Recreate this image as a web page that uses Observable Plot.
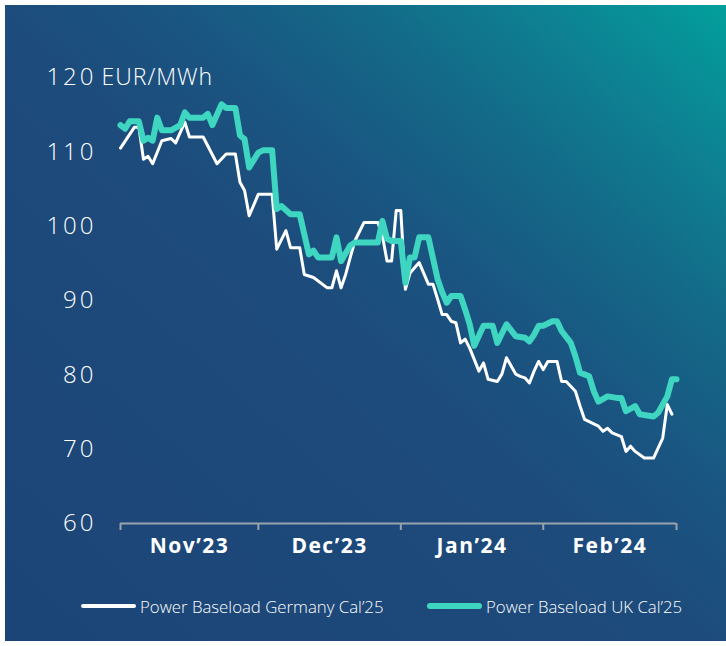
<!DOCTYPE html>
<html><head><meta charset="utf-8">
<script src="https://cdn.jsdelivr.net/npm/d3@7"></script>
<script src="https://cdn.jsdelivr.net/npm/@observablehq/plot@0.6"></script>
<style>
html,body{margin:0;padding:0;background:#fff;width:726px;height:646px;overflow:hidden;font-family:"Open Sans",Lato,sans-serif}
#card{position:absolute;left:5px;top:5px;width:721px;height:636px;background:linear-gradient(to bottom left,#029f9c 0%,#0e8092 14%,#146787 27%,#1a5481 40%,#1d4b7b 52%,#1c4577 100%);}
#chart{position:absolute;left:0;top:0;}
#chart g[aria-label="y-axis tick label"] text{letter-spacing:3px}
#chart g[aria-label="x-axis tick label"] text{letter-spacing:1.5px}
#chart g[aria-label="text"] text{letter-spacing:1px}
.leg{position:absolute;top:596px;height:20px;display:flex;align-items:center;color:#fff;font-size:16.8px;font-weight:300;white-space:nowrap}
.sw{display:inline-block;border-radius:3px;margin-right:4px}
</style>
</head><body>
<div id="card"></div>
<div id="chart"></div>
<div class="leg" id="leg1" style="left:81px"></div>
<div class="leg" id="leg2" style="left:427px"></div>
<script>
const seriesNames = ["Power Baseload Germany Cal’25", "Power Baseload UK Cal’25"];
const seriesColors = ["#ffffff", "#3fd6c1"];
const unit = "EUR/MWh";
const yTicks = [60, 70, 80, 90, 100, 110];
const yTopTick = [120];
const monthStarts = ["2023-11-01","2023-12-01","2024-01-01","2024-02-01","2024-03-01"];
const monthMids = ["2023-11-16","2023-12-16T12:00Z","2024-01-16T12:00Z","2024-02-15T12:00Z"];
const monthLabels = ["Nov’23","Dec’23","Jan’24","Feb’24"];

const germanyDates = ["2023-11-01","2023-11-04","2023-11-05","2023-11-06","2023-11-07","2023-11-08","2023-11-10","2023-11-12","2023-11-13","2023-11-15","2023-11-16","2023-11-19","2023-11-22","2023-11-24","2023-11-26","2023-11-27","2023-11-28","2023-11-29","2023-12-01","2023-12-04","2023-12-05","2023-12-07","2023-12-08","2023-12-10","2023-12-11","2023-12-12","2023-12-13","2023-12-16","2023-12-17","2023-12-18","2023-12-19","2023-12-20","2023-12-21","2023-12-22","2023-12-24","2023-12-27","2023-12-28","2023-12-29","2023-12-30","2023-12-31","2024-01-01","2024-01-02","2024-01-03","2024-01-05","2024-01-07","2024-01-08","2024-01-09","2024-01-10","2024-01-11","2024-01-12","2024-01-13","2024-01-14","2024-01-15","2024-01-16","2024-01-18","2024-01-19","2024-01-20","2024-01-22","2024-01-23","2024-01-24","2024-01-26","2024-01-27","2024-01-28","2024-01-29","2024-01-30","2024-01-31","2024-02-01","2024-02-02","2024-02-04","2024-02-05","2024-02-06","2024-02-08","2024-02-09","2024-02-10","2024-02-11","2024-02-13","2024-02-14","2024-02-15","2024-02-16","2024-02-18","2024-02-19","2024-02-20","2024-02-21","2024-02-23","2024-02-25","2024-02-27","2024-02-28","2024-02-29"];
const germanyValues = [110.5,113.3,113.3,109.0,109.4,108.4,111.5,111.8,111.2,114.0,112.0,112.0,108.4,109.7,109.7,105.9,104.8,101.4,104.3,104.3,96.9,99.4,97.1,97.1,93.5,93.3,93.1,91.7,91.7,94.0,91.7,93.5,95.8,98.0,100.5,100.5,98.7,95.3,95.3,102.1,102.1,91.5,93.7,95.1,92.2,92.2,90.2,88.1,88.1,87.2,87.0,84.3,84.8,83.6,80.5,81.6,79.4,79.1,80.1,82.3,80.1,79.8,79.6,78.9,80.5,81.8,80.7,81.8,81.8,79.1,79.1,77.8,75.8,74.0,73.7,73.1,72.4,72.8,72.2,71.7,69.7,70.4,69.7,68.8,68.8,71.5,76.0,74.7];

const ukDates = ["2023-11-01","2023-11-02","2023-11-03","2023-11-05","2023-11-06","2023-11-07","2023-11-08","2023-11-09","2023-11-10","2023-11-12","2023-11-14","2023-11-15","2023-11-16","2023-11-19","2023-11-20","2023-11-21","2023-11-23","2023-11-24","2023-11-26","2023-11-27","2023-11-28","2023-11-29","2023-12-01","2023-12-02","2023-12-04","2023-12-05","2023-12-06","2023-12-08","2023-12-10","2023-12-12","2023-12-13","2023-12-14","2023-12-17","2023-12-18","2023-12-19","2023-12-21","2023-12-22","2023-12-27","2023-12-28","2023-12-29","2023-12-30","2024-01-01","2024-01-02","2024-01-03","2024-01-04","2024-01-05","2024-01-07","2024-01-09","2024-01-10","2024-01-11","2024-01-12","2024-01-14","2024-01-15","2024-01-16","2024-01-17","2024-01-19","2024-01-21","2024-01-22","2024-01-24","2024-01-26","2024-01-28","2024-01-29","2024-01-30","2024-01-31","2024-02-01","2024-02-03","2024-02-04","2024-02-05","2024-02-07","2024-02-08","2024-02-09","2024-02-11","2024-02-12","2024-02-13","2024-02-15","2024-02-17","2024-02-18","2024-02-19","2024-02-21","2024-02-22","2024-02-25","2024-02-26","2024-02-28","2024-02-29","2024-03-01"];
const ukValues = [113.6,113.1,114.1,114.1,111.5,111.9,111.5,114.6,112.9,112.9,113.6,115.3,114.6,114.6,115.1,113.6,116.4,115.9,115.9,112.2,111.7,107.9,109.9,110.2,110.2,102.3,102.7,101.6,101.6,96.2,96.7,95.8,95.8,98.5,95.3,97.4,97.8,97.8,100.7,98.3,98.0,98.0,92.4,95.8,95.8,98.5,98.5,92.9,91.1,89.7,90.6,90.6,88.8,86.8,83.9,86.6,86.6,84.3,86.8,85.2,85.0,84.5,85.4,86.6,86.6,87.2,87.2,85.9,84.3,82.5,80.3,79.8,77.8,76.4,77.1,76.9,76.9,75.1,75.8,74.7,74.4,74.9,77.1,79.4,79.4];

const germany = germanyDates.map((d, i) => ({date: new Date(d), value: germanyValues[i]}));
const uk = ukDates.map((d, i) => ({date: new Date(d), value: ukValues[i]}));
const starts = monthStarts.map(d => new Date(d));
const mids = monthMids.map(d => new Date(d));
const axisGray = "#9aa3ad";

const chart = Plot.plot({
  width: 726, height: 580,
  marginLeft: 120, marginRight: 50, marginTop: 77, marginBottom: 57,
  style: {background: "transparent", color: "#fff", fontFamily: "'Open Sans', Lato, sans-serif"},
  x: {type: "utc", domain: [starts[0], starts[starts.length - 1]]},
  y: {domain: [60, 120]},
  marks: [
    Plot.axisY({ticks: yTicks, tickSize: 0, tickPadding: 24, fontSize: 24, fontWeight: 300, fill: "#fff", label: null}),
    Plot.axisY({ticks: yTopTick, tickSize: 0, tickPadding: 24, fontSize: 24, fontWeight: 300, fill: "#fff", label: null}),
    Plot.text(yTopTick, {y: d => d, frameAnchor: "left", text: () => unit, textAnchor: "start", dx: -19, fontSize: 23, fontWeight: 300, fill: "#fff"}),
    Plot.ruleY([60], {stroke: axisGray, strokeWidth: 2}),
    Plot.axisX({ticks: starts, tickSize: 7, tickFormat: () => "", stroke: axisGray, strokeWidth: 2, label: null}),
    Plot.axisX({ticks: mids, tickSize: 0, tickPadding: 15, fontSize: 21, fontWeight: "bold", fill: "#fff", label: null,
      tickFormat: d => monthLabels[mids.findIndex(m => +m === +d)]}),
    Plot.line(germany, {x: "date", y: "value", stroke: seriesColors[0], strokeWidth: 3}),
    Plot.line(uk, {x: "date", y: "value", stroke: seriesColors[1], strokeWidth: 6})
  ]
});
document.getElementById("chart").append(chart);

[["leg1", 0, 4], ["leg2", 1, 6]].forEach(([id, i, h]) => {
  const el = document.getElementById(id);
  const sw = document.createElement("span");
  sw.className = "sw";
  sw.style.width = "55px"; sw.style.height = h + "px"; sw.style.background = seriesColors[i];
  el.append(sw, document.createTextNode(seriesNames[i]));
});
</script>
</body></html>
